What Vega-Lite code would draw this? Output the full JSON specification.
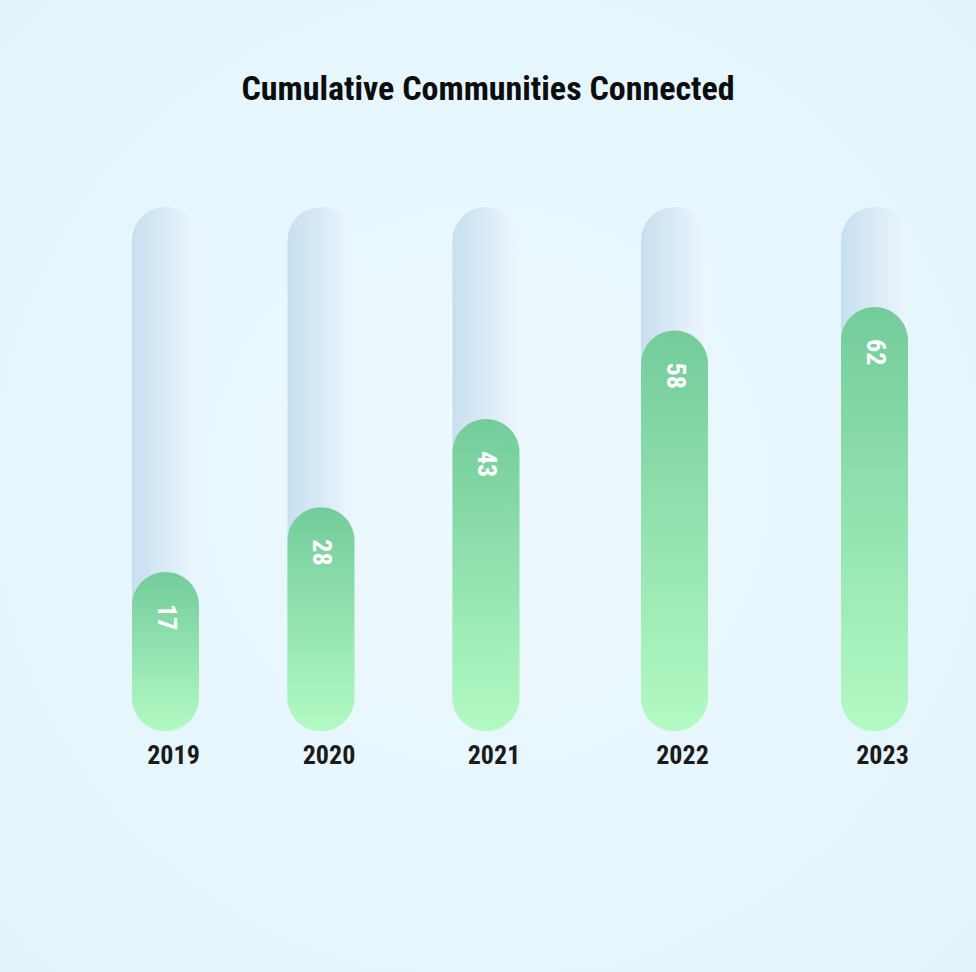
{
  "$schema": "https://vega.github.io/schema/vega-lite/v6.json",
  "width": 976,
  "height": 972,
  "padding": 0,
  "autosize": {"type": "none"},
  "background": "#e4f5fd",
  "title": {
    "text": "Cumulative Communities Connected",
    "orient": "top",
    "anchor": "middle",
    "frame": "group",
    "offset": -134,
    "baseline": "alphabetic",
    "font": "Roboto Condensed, Liberation Sans Narrow, Roboto, sans-serif",
    "fontSize": 34,
    "fontWeight": "bold",
    "color": "#0d0d0d"
  },
  "data": {
    "values": [
      {"year": 2019, "communities": 17},
      {"year": 2020, "communities": 28},
      {"year": 2021, "communities": 43},
      {"year": 2022, "communities": 58},
      {"year": 2023, "communities": 62}
    ]
  },
  "encoding": {
    "x": {
      "field": "year",
      "type": "quantitative",
      "axis": null,
      "scale": {"domain": [2019, 2020, 2021, 2022, 2023], "range": [165.5, 321, 486, 674.5, 874.5], "nice": false, "zero": false, "padding": 0}
    }
  },
  "layer": [
    {
      "mark": {
        "type": "bar",
        "width": 67,
        "cornerRadius": 33.5,
        "y2Offset": 59,
        "color": {"gradient": "linear", "x1": 0, "y1": 0, "x2": 1, "y2": 0, "stops": [{"offset": 0, "color": "#c6dff0"}, {"offset": 1, "color": "#eef6fd"}]}
      },
      "encoding": {
        "y": {"datum": 79, "type": "quantitative", "axis": null, "scale": {"domain": [-50.9, 114.13], "nice": false, "zero": false, "padding": 0}},
        "y2": {"datum": 0}
      }
    },
    {
      "mark": {
        "type": "bar",
        "width": 67,
        "cornerRadius": 33.5,
        "y2Offset": 59,
        "color": {"gradient": "linear", "x1": 0, "y1": 0, "x2": 0, "y2": 1, "stops": [{"offset": 0, "color": "#73cc9a"}, {"offset": 1, "color": "#b3fac4"}]}
      },
      "encoding": {
        "y": {"field": "communities", "type": "quantitative", "axis": null},
        "y2": {"datum": 0}
      }
    },
    {
      "mark": {
        "type": "text",
        "angle": 90,
        "align": "left",
        "baseline": "middle",
        "dx": 32,
        "dy": 0,
        "color": "#ffffff",
        "font": "Roboto Condensed, Liberation Sans Narrow, Roboto, sans-serif",
        "fontSize": 26,
        "fontWeight": "bold"
      },
      "encoding": {
        "y": {"field": "communities", "type": "quantitative"},
        "text": {"field": "communities", "type": "quantitative"}
      }
    },
    {
      "mark": {
        "type": "text",
        "align": "center",
        "baseline": "top",
        "dx": 8,
        "dy": 71,
        "color": "#1b1b1b",
        "font": "Roboto Condensed, Liberation Sans Narrow, Roboto, sans-serif",
        "fontSize": 26,
        "fontWeight": "bold"
      },
      "encoding": {
        "y": {"datum": 0, "type": "quantitative"},
        "text": {"field": "year", "type": "nominal"}
      }
    }
  ],
  "config": {
    "view": {
      "stroke": null,
      "fill": {"gradient": "radial", "x1": 0.5, "y1": 0.5, "r1": 0, "x2": 0.5, "y2": 0.5, "r2": 0.7, "stops": [{"offset": 0, "color": "#edf9fe"}, {"offset": 1, "color": "#e1f4fc"}]}
    }
  }
}
